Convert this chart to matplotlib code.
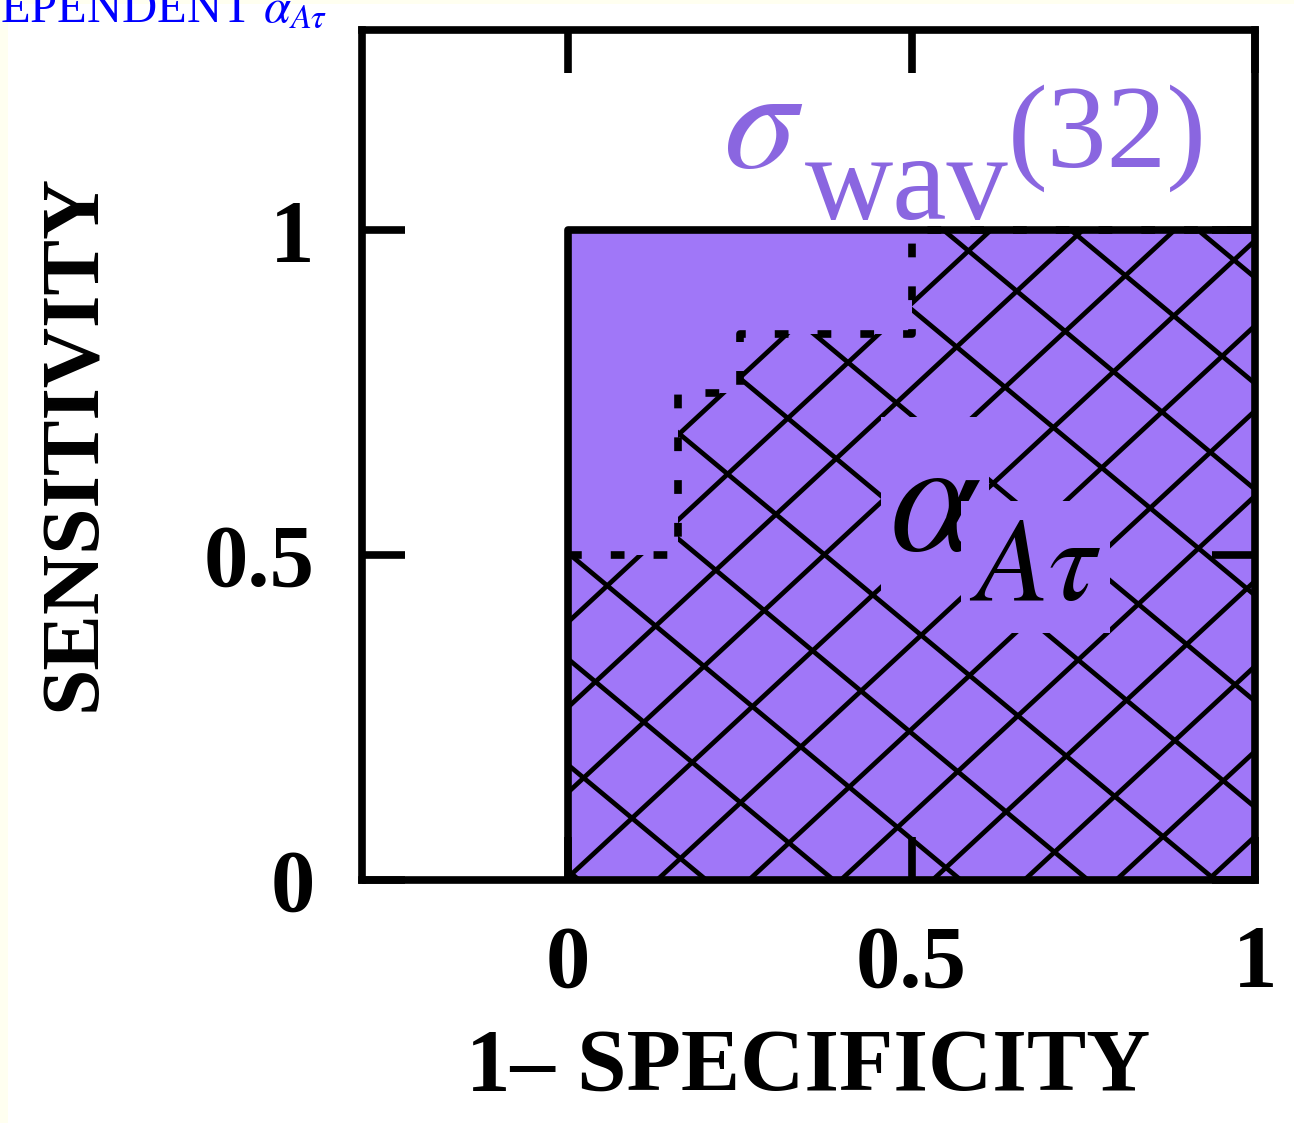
import numpy as np
import matplotlib
matplotlib.use("Agg")
import matplotlib.pyplot as plt
from matplotlib.patches import Polygon, Rectangle

# ROC curves
sig_fpr = [0.0, 0.0, 1.0]
sig_tpr = [0.0, 1.0, 1.0]
alpha_fpr = [0.0, 0.0, 0.16, 0.16, 0.25, 0.25, 0.5, 0.5, 1.0, 1.0]
alpha_tpr = [0.0, 0.5, 0.5, 0.75, 0.75, 0.84, 0.84, 1.0, 1.0, 0.0]

xticks = [0, 0.5, 1]
xticklabels = ["0", "0.5", "1"]
yticks = [0, 0.5, 1]
yticklabels = ["0", "0.5", "1"]

purple = "#a077f8"
label_purple = "#8a66e0"
plt.rcParams["mathtext.fontset"] = "stix"

fig = plt.figure(figsize=(12.94, 11.23), dpi=100, facecolor="#fffff0")
# white page with thin yellowish strip on the left / top
fig.patches.append(Rectangle((8 / 1294, 0), 1, 1 - 4 / 1123, transform=fig.transFigure,
                             facecolor="white", edgecolor="none", zorder=-10))

ax = fig.add_axes([0.2798, 0.2164, 0.6901, 0.7569])
ax.set_xlim(-0.3, 1.0)
ax.set_ylim(0, 1.308)
ax.set_facecolor("white")

# sigma_wav(32) curve: filled area
ax.fill_between(sig_fpr, sig_tpr, color=purple, lw=0, zorder=1)
ax.plot(sig_fpr, sig_tpr, color="black", lw=5.5, solid_capstyle="butt", zorder=3)

# alpha_At curve: cross hatch under the step curve
clip = Polygon(np.column_stack([alpha_fpr, alpha_tpr]), closed=True,
               transform=ax.transData, facecolor="none", edgecolor="none")
ax.add_patch(clip)
xx = np.array([-0.2, 1.2])
for b in 0.503 + 0.163 * np.arange(-8, 14):
    ln, = ax.plot(xx, -0.88 * xx + b, color="black", lw=3.4, zorder=2)
    ln.set_clip_path(clip)
for a in 0.266 + 0.131 * np.arange(-14, 8):
    ln, = ax.plot(xx, 0.98 * xx + a, color="black", lw=3.4, zorder=2)
    ln.set_clip_path(clip)
ax.plot(alpha_fpr[1:-1], alpha_tpr[1:-1], color="black", lw=5.5,
        linestyle=(0, (1.8, 3.8)), zorder=2.5)

# curve names
ax.text(0.225, 1.097, r"$\sigma$", color=label_purple, fontsize=106,
        ha="left", va="baseline")
ax.text(0.344, 1.017, "wav", color=label_purple, fontsize=88,
        family="Liberation Serif", ha="left", va="baseline")
ax.text(0.640, 1.097, "(32)", color=label_purple, fontsize=86,
        family="Liberation Serif", ha="left", va="baseline")

box = dict(facecolor=purple, edgecolor="none", pad=6)
ax.text(0.467, 0.508, r"$\alpha$", color="black", fontsize=118,
        ha="left", va="baseline", bbox=box, zorder=4)
ax.text(0.584, 0.431, r"$A\tau$", color="black", fontsize=86,
        ha="left", va="baseline", bbox=box, zorder=4)

for s in ax.spines.values():
    s.set_linewidth(5.5)
ax.set_xticks(xticks)
ax.set_xticklabels(xticklabels)
ax.set_yticks(yticks)
ax.set_yticklabels(yticklabels)
ax.tick_params(direction="in", length=31, width=5.5, top=True, right=True,
               labelsize=64)
ax.tick_params(axis="x", pad=32)
ax.tick_params(axis="y", pad=34)
for lab in ax.get_xticklabels() + ax.get_yticklabels():
    lab.set_family("Liberation Serif")
    lab.set_fontweight("bold")

ax.set_xlabel("1\u2013 SPECIFICITY", family="Liberation Serif", fontweight="bold",
              fontsize=64, labelpad=16)
ax.set_ylabel("SENSITIVITY", family="Liberation Serif", fontweight="bold",
              fontsize=60)
ax.yaxis.set_label_coords(-0.279, 0.515)

fig.text(0.0, 1 - 21 / 1123, r"EPENDENT $\alpha_{A\tau}$", color="blue",
         fontsize=35, family="Liberation Serif", ha="left", va="baseline")

fig.savefig("out.png", dpi=100, facecolor=fig.get_facecolor())
